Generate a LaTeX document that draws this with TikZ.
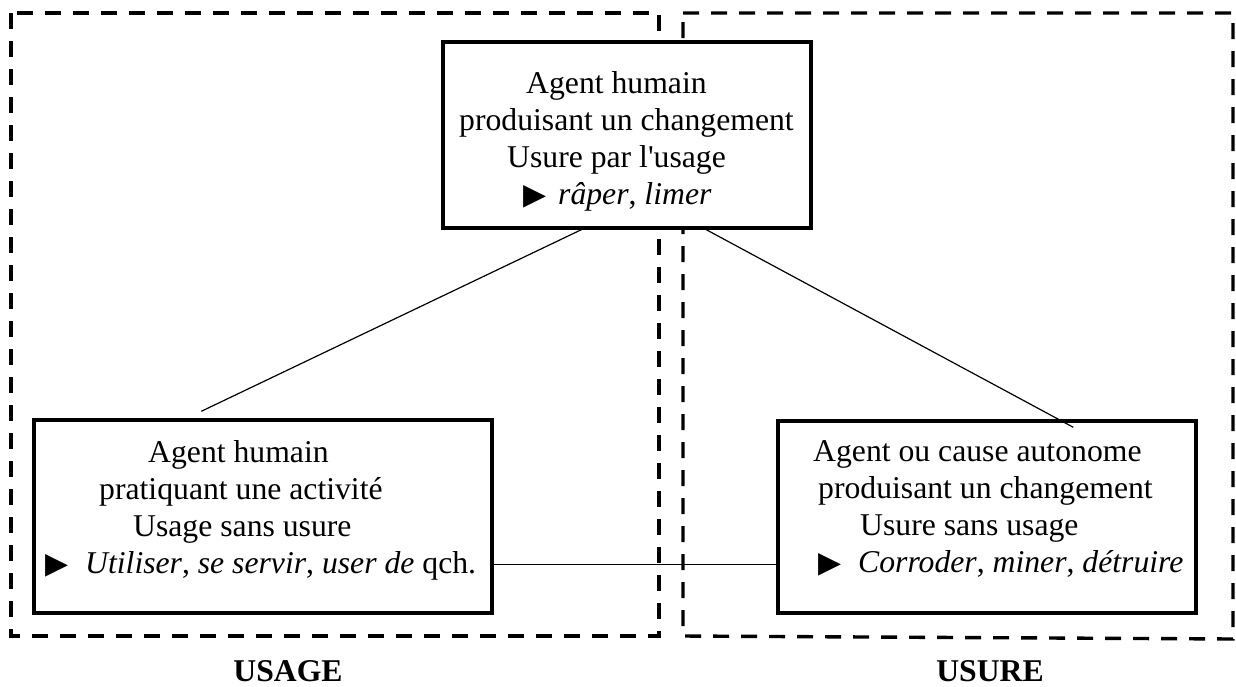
\documentclass[tikz,border=0pt]{standalone}
\usepackage{graphicx}
\usepackage{fontspec}
\setmainfont{Liberation Serif}
\newfontfamily\symfont{DejaVu Sans}
\newcommand{\ptr}{\raisebox{0pt}{\resizebox{23pt}{19pt}{\symfont ▶}}}
\begin{document}
\begin{tikzpicture}[x=1pt,y=-1pt,
  frame/.style={line width=3.4pt, dash pattern=on 16pt off 12pt},
  box/.style={draw, line width=3.4pt, fill=white, inner sep=0pt},
  txt/.style={inner sep=0pt, align=left, anchor=north west, font=\fontsize{31.7pt}{37pt}\selectfont},
  lab/.style={inner sep=0pt, anchor=base, font=\fontsize{31.7pt}{37pt}\selectfont\bfseries},
  link/.style={line width=1.2pt}]
\useasboundingbox (0,0) rectangle (1236,686);
% dashed frames
\draw[frame] (11,13) rectangle (659,636);
\draw[frame] (683,13) -- (1233,13) -- (1233,639) -- (683,636) -- cycle;
% boxes
\node[box, minimum width=368pt, minimum height=186pt] (T) at (627,135) {};
\node[box, minimum width=458pt, minimum height=193pt] (L) at (263,516.5) {};
\node[box, minimum width=418pt, minimum height=192pt] (R) at (987,517) {};
% texts
\node[txt] (Ttxt) at (459,67.1) {\strut\hspace*{67pt}Agent humain\\
  produisant un changement\\
  \hspace*{48pt}Usure par l\textquotesingle usage\\
  \hspace*{64pt}\makebox[35pt][l]{\ptr}\textit{râper}, \textit{limer}};
\node[txt] (Ltxt) at (45,436.1) {\strut\hspace*{103pt}Agent humain\\
  \hspace*{54pt}pratiquant une activité\\
  \hspace*{88pt}Usage sans usure\\
  \makebox[40pt][l]{\ptr}\textit{Utiliser}, \textit{se servir}, \textit{user de} qch.};
\node[txt] (Rtxt) at (813,435.1) {\strut Agent ou cause autonome\\
  \hspace*{5pt}produisant un changement\\
  \hspace*{47pt}Usure sans usage\\
  \hspace*{5pt}\makebox[40pt][l]{\ptr}\textit{Corroder}, \textit{miner}, \textit{détruire}};
% connectors
\coordinate (ta) at ([xshift=140pt]T.south west);
\coordinate (tb) at ([xshift=265pt]T.south west);
\coordinate (la) at ([xshift=169pt,yshift=7pt]L.north west);
\coordinate (rb) at ([xshift=297pt,yshift=-8pt]R.north west);
\coordinate (lh) at ([yshift=50pt]L.south east);
\draw[link] (ta) -- (la);
\draw[link] (tb) -- (rb);
\draw[link] (lh) -- (lh -| R.west);
% labels
\node[lab] (usage) at (288,681) {USAGE};
\node[lab] (usure) at (990,681) {USURE};
\end{tikzpicture}
\end{document}
